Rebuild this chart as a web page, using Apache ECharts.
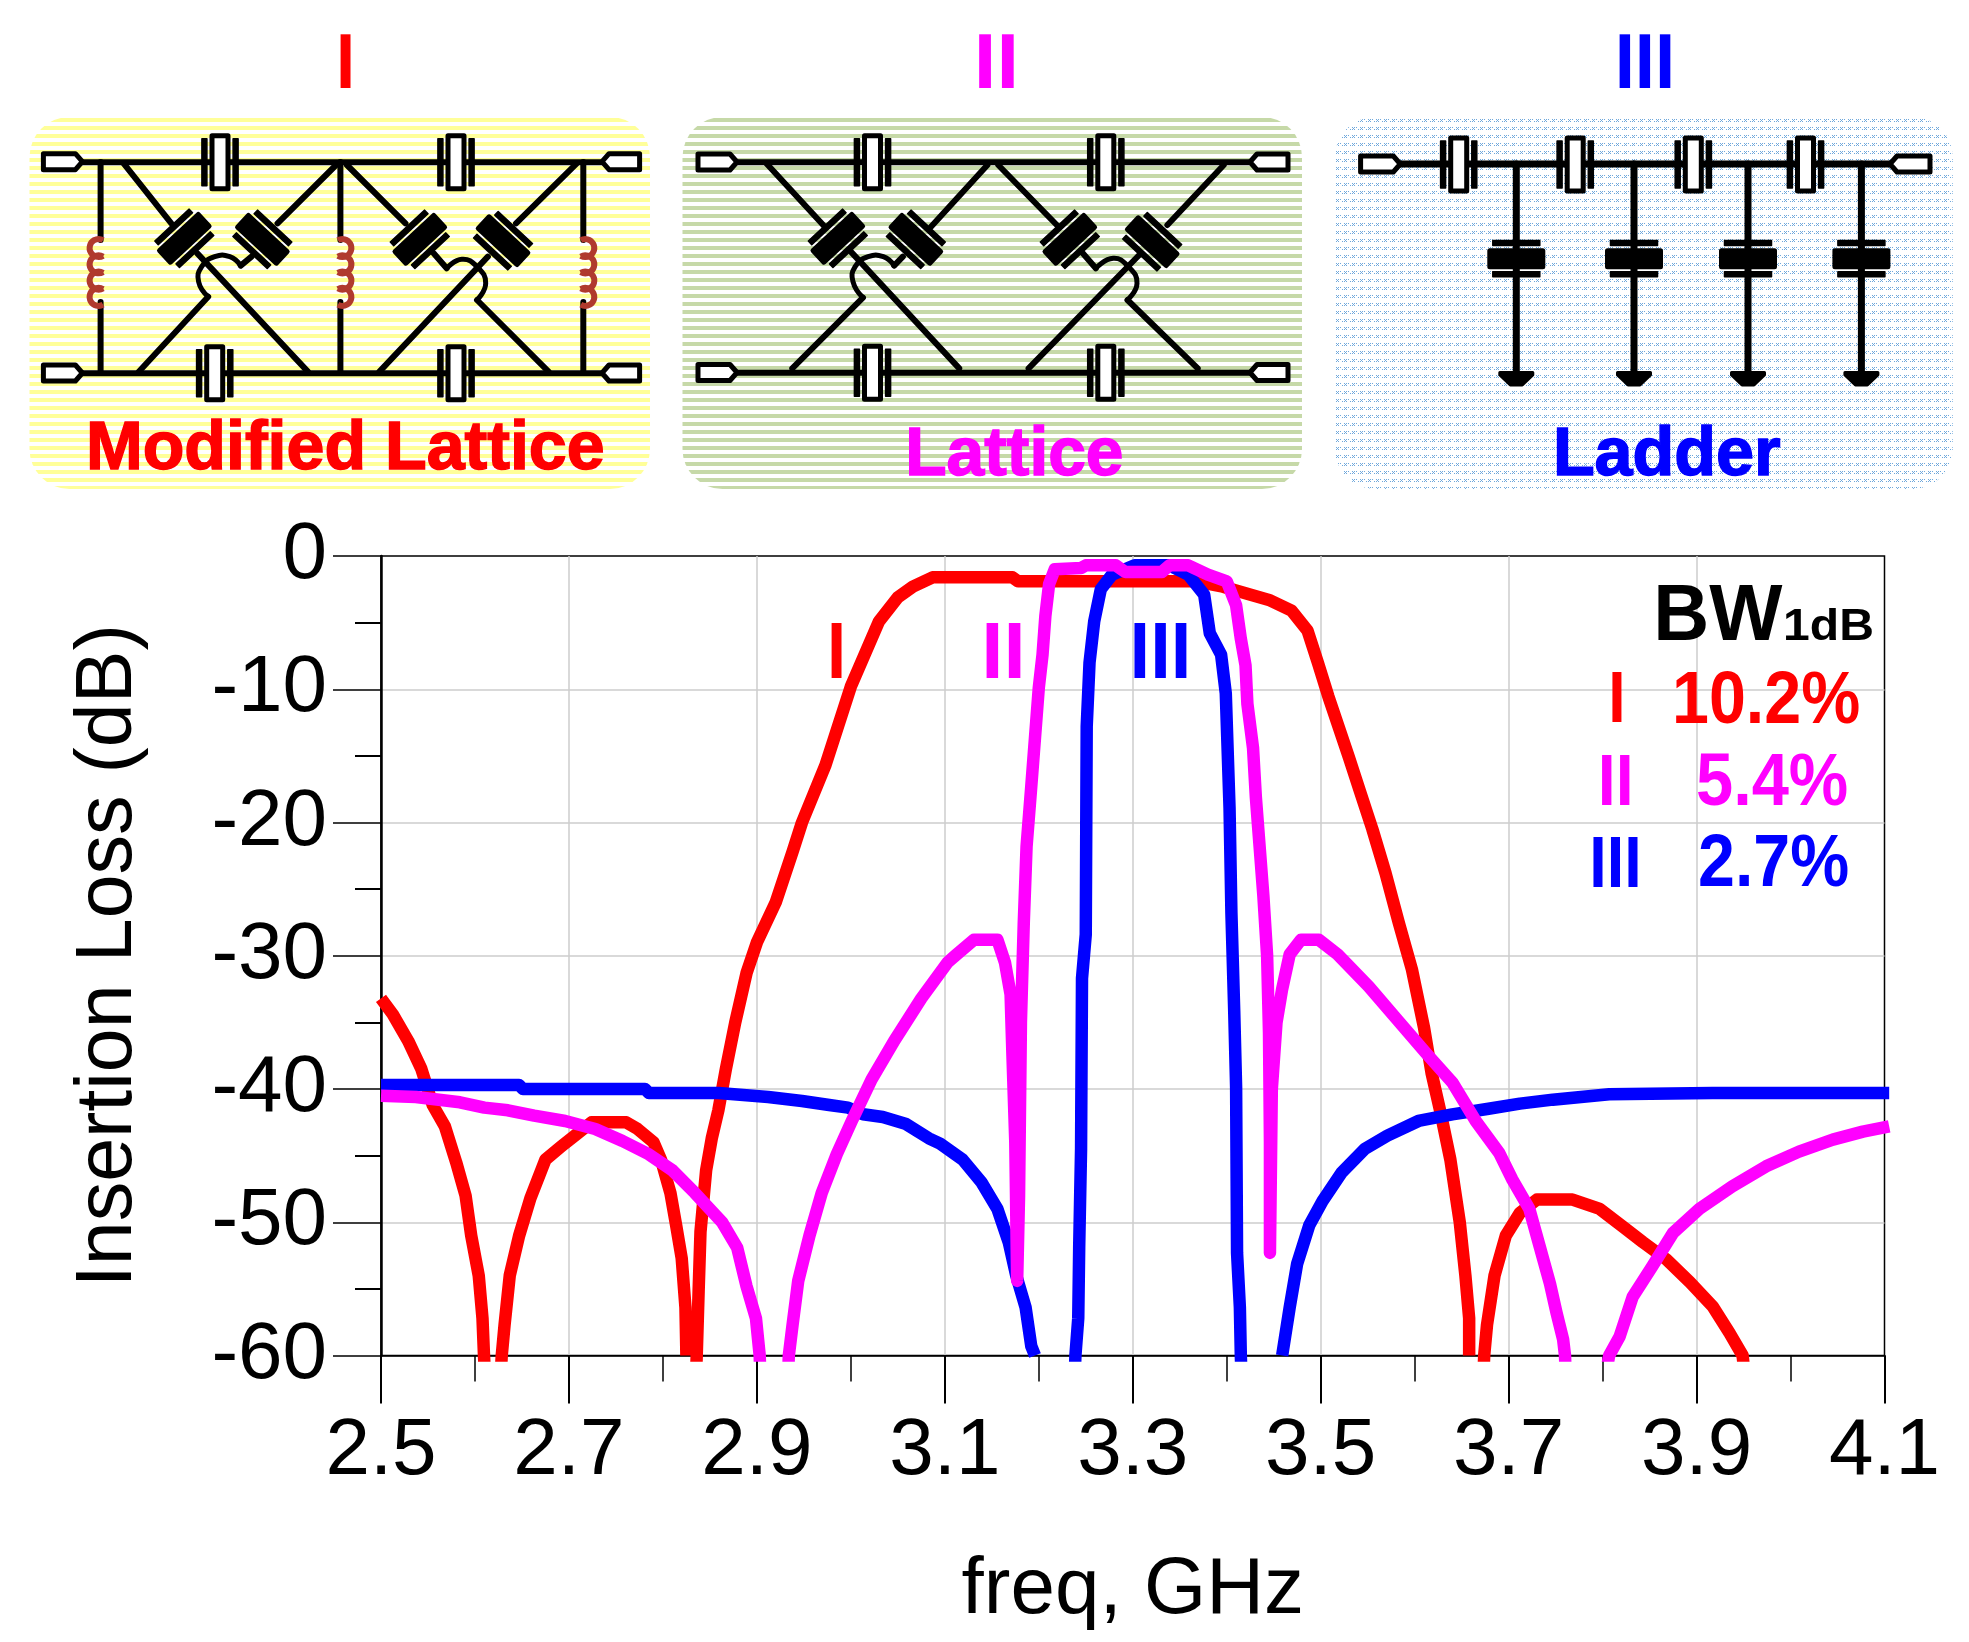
<!DOCTYPE html>
<html>
<head>
<meta charset="utf-8">
<style>html,body{margin:0;padding:0;background:#fff}#c{width:1969px;height:1642px}</style>
<script src="https://cdn.jsdelivr.net/npm/echarts@6/dist/echarts.min.js"></script>
</head>
<body>
<div id="c"></div>
<script>
// ---------- chart data ----------
const xMajorTicks = [2.5, 2.7, 2.9, 3.1, 3.3, 3.5, 3.7, 3.9, 4.1];
const yTickValues = [0, -10, -20, -30, -40, -50, -60];
const seriesNames = ['I', 'II', 'III'];
const bandwidths = ['10.2%', '5.4%', '2.7%'];

const redFreq = [2.5,2.5126,2.529,2.543,2.555,2.568,2.58,2.59,2.596,2.604,2.608,2.6096,2.611,2.612,
  2.627,2.6285,2.6315,2.637,2.647,2.659,2.675,2.692,2.708,2.724,2.761,2.773,2.79,2.798,2.808,2.814,2.82,2.824,2.825,2.826,
  2.835,2.836,2.838,2.84,2.846,2.852,2.859,2.867,2.877,2.889,2.9,2.92,2.938,2.948,2.973,3.0,3.03,3.05,3.066,3.087,3.127,3.172,3.178,3.367,3.396,3.42,3.445,3.469,3.486,3.497,3.508,3.53,3.542,3.555,3.569,3.583,3.597,3.61,3.618,3.628,3.638,3.648,3.654,3.658,3.658,3.659,
  3.673,3.674,3.677,3.685,3.697,3.712,3.73,3.768,3.797,3.821,3.843,3.868,3.893,3.917,3.935,3.949,3.952];
const redDb = [-33.2,-34.4,-36.4,-38.5,-41.2,-42.8,-45.5,-48,-51,-54,-57.2,-60,-62,null,
  -62,-60,-57.7,-54,-51,-48.2,-45.3,-44.3,-43.4,-42.5,-42.5,-43,-44,-45.3,-47.8,-50.2,-52.7,-56.4,-60,null,
  -62,-60,-55.2,-50.7,-46.1,-43.7,-41.6,-38.5,-35,-31.3,-29,-26,-22.2,-20,-15.7,-9.8,-4.9,-3.1,-2.3,-1.6,-1.6,-1.6,-1.9,-1.9,-2.3,-2.8,-3.3,-4.1,-5.6,-8,-10.5,-15.1,-17.7,-20.5,-23.8,-27.5,-31,-35.4,-38.8,-41.9,-45.3,-50,-54,-57.2,-60,null,
  -62,-60,-57.7,-54,-51,-49.3,-48.3,-48.3,-49,-50.3,-51.5,-52.8,-54.5,-56.3,-58.3,-60,-62];

const magentaFreq = [2.5,2.537,2.584,2.61,2.635,2.663,2.696,2.728,2.757,2.785,2.81,2.834,2.863,2.879,2.889,2.899,2.903,2.904,2.905,
  2.933,2.934,2.938,2.944,2.956,2.969,2.985,3.001,3.022,3.046,3.075,3.103,3.111,3.131,3.156,3.164,3.17,3.172,3.175,3.177,3.179,3.181,3.184,3.187,3.192,3.196,3.2,3.204,3.207,3.211,3.217,3.245,3.25,3.282,3.292,3.331,3.339,3.359,3.38,3.4,3.41,3.415,3.42,3.422,3.428,3.431,3.435,3.439,3.443,3.445,3.446,3.446,3.448,3.453,3.459,3.467,3.479,3.498,3.518,3.551,3.579,3.612,3.64,3.665,3.69,3.704,3.722,3.733,3.744,3.751,3.758,3.76,3.761,
  3.801,3.802,3.807,3.818,3.832,3.853,3.875,3.903,3.938,3.974,4.009,4.045,4.077,4.105];
const magentaDb = [-40.5,-40.6,-41,-41.4,-41.6,-42,-42.4,-43,-43.9,-44.9,-46.1,-47.8,-50,-51.9,-54.8,-57.2,-60,-62,null,
  -62,-60,-57.7,-54.4,-51,-47.8,-44.9,-42.4,-39.3,-36.4,-33.2,-30.5,-30,-28.8,-28.8,-30.5,-32.9,-37.5,-44,-54.4,-48,-35,-27.6,-21.8,-17.3,-13.6,-9.9,-7.4,-4.5,-2.1,-1,-0.9,-0.7,-0.7,-1.2,-1.2,-0.7,-0.7,-1.4,-1.9,-3.7,-6.2,-8.2,-11.1,-14.4,-18.1,-21.8,-25.5,-30,-35.8,-44,-52.3,-40,-35,-32.5,-29.9,-28.8,-28.8,-29.9,-32.3,-34.6,-37.3,-39.5,-42.4,-44.8,-46.8,-49,-51.8,-54.6,-56.8,-58.8,-60,-62,null,
  -62,-60,-58.6,-55.6,-53.3,-50.8,-49,-47.3,-45.8,-44.7,-43.8,-43.2,-42.8,-42.4];

const blueFreq = [2.5,2.647,2.651,2.781,2.785,2.859,2.912,2.948,2.977,2.997,3.013,3.034,3.058,3.083,3.095,3.119,3.139,3.156,3.168,3.176,3.186,3.192,3.196,3.197,
  3.238,3.239,3.242,3.243,3.245,3.246,3.25,3.251,3.254,3.259,3.266,3.278,3.302,3.339,3.359,3.376,3.382,3.394,3.399,3.403,3.405,3.408,3.41,3.411,3.414,3.415,3.416,
  3.458,3.459,3.467,3.475,3.488,3.502,3.522,3.547,3.571,3.604,3.64,3.677,3.712,3.747,3.807,3.917,4.105];
const blueDb = [-39.7,-39.7,-40,-40,-40.3,-40.3,-40.6,-40.9,-41.2,-41.4,-41.9,-42.1,-42.6,-43.7,-44.1,-45.3,-47,-49,-51.5,-54,-56.4,-59.3,-60,null,
  -62,-60,-57.2,-51.9,-44.5,-31.7,-28.4,-12.8,-8,-4.9,-2.5,-1.4,-0.7,-0.7,-1.4,-2.9,-5.8,-7.4,-10.3,-18.9,-26.8,-34.2,-39.9,-52.3,-56.4,-60,-62,
  null,-60,-56.4,-53.1,-50.2,-48.4,-46.3,-44.5,-43.5,-42.4,-41.9,-41.5,-41.1,-40.8,-40.4,-40.3,-40.3];

const RED = '#ff0000', MAG = '#ff00ff', BLU = '#0000ff';
const FONT = '"Liberation Sans", Arial, sans-serif';

function zip(xs, ys) { return xs.map((x, i) => [x, ys[i]]); }

// ---------- helpers for text and schematics ----------
const measure = document.createElement('canvas').getContext('2d');
const g = [];

function fit(str, l, r, top, bot, color, stroke) {
  measure.font = 'bold 100px ' + FONT;
  measure.textBaseline = 'middle';
  measure.textAlign = 'left';
  const m = measure.measureText(str);
  const inkW = m.actualBoundingBoxLeft + m.actualBoundingBoxRight;
  const inkH = m.actualBoundingBoxAscent + m.actualBoundingBoxDescent;
  const fs = 100 * (bot - top) / inkH;
  const k = fs / 100;
  const sx = (r - l) / (inkW * k);
  g.push({
    type: 'text', z: 20, x: l + m.actualBoundingBoxLeft * k * sx, y: bot - m.actualBoundingBoxDescent * k, scaleX: sx,
    style: { text: str, font: 'bold ' + fs + 'px ' + FONT, fill: color, align: 'left', verticalAlign: 'middle',
             stroke: stroke ? color : null, lineWidth: stroke || 0 }
  });
}

function poly(pts, fill, stroke, lw) {
  g.push({ type: 'polygon', z: 12, shape: { points: pts },
    style: { fill: fill, stroke: stroke || null, lineWidth: lw || 0, lineJoin: 'round' } });
}
function wire(x1, y1, x2, y2, lw) {
  g.push({ type: 'line', z: 11, shape: { x1: x1, y1: y1, x2: x2, y2: y2 },
    style: { stroke: '#000', lineWidth: lw || 6, lineCap: 'round' } });
}
function curve(pts, lw) {
  g.push({ type: 'polyline', z: 11, shape: { points: pts, smooth: 0.5 },
    style: { stroke: '#000', lineWidth: lw || 5, fill: null, lineCap: 'round' } });
}
function box(cx, cy, ux, uy, hu, hv) {
  const vx = -uy, vy = ux;
  return [[cx + ux * hu + vx * hv, cy + uy * hu + vy * hv], [cx + ux * hu - vx * hv, cy + uy * hu - vy * hv],
          [cx - ux * hu - vx * hv, cy - uy * hu - vy * hv], [cx - ux * hu + vx * hv, cy - uy * hu + vy * hv]];
}
function resonator(cx, cy, ux, uy, filled) {
  poly(box(cx, cy, ux, uy, 8, 26.5), filled ? '#000' : '#fff', '#000', 5);
  poly(box(cx + ux * 15.6, cy + uy * 15.6, ux, uy, 2.5, 23.5), '#000', '#000', 1.5);
  poly(box(cx - ux * 15.6, cy - uy * 15.6, ux, uy, 2.5, 23.5), '#000', '#000', 1.5);
}
function port(x1, x2, y, tipRight) {
  const tip = tipRight ? x2 : x1, neck = tipRight ? x2 - 7 : x1 + 7, back = tipRight ? x1 : x2;
  poly([[back, y - 8], [neck, y - 8], [tip, y], [neck, y + 8], [back, y + 8]], '#fff', '#000', 5);
}
function inductor(x, y0, dir) {
  const open = Math.PI / 3;
  for (let i = 0; i < 4; i++) {
    const cy = y0 + 8 + i * 16.3;
    const mid = dir < 0 ? Math.PI : 0;
    g.push({ type: 'arc', z: 12, shape: { cx: x + dir * 2, cy: cy, r: 9, startAngle: mid - Math.PI / 2 - open / 2, endAngle: mid + Math.PI / 2 + open / 2, clockwise: true },
      style: { stroke: '#b03a2e', lineWidth: 6, fill: null } });
  }
}
const dirA = [0.68, 0.73], dirB = [-0.68, 0.73];
function panel(x, w, fillPattern) {
  g.push({ type: 'rect', z: 5, shape: { x: x, y: 117, width: w, height: 372, r: 40 }, style: { fill: fillPattern } });
}
function stripes(color) {
  const c = document.createElement('canvas'); c.width = 8; c.height = 8;
  const t = c.getContext('2d'); t.fillStyle = color;
  t.fillRect(0, 6, 8, 2); t.fillRect(0, 0, 8, 2);
  return { image: c, repeat: 'repeat' };
}
function dots(color) {
  const c = document.createElement('canvas'); c.width = 8; c.height = 8;
  const t = c.getContext('2d'); t.fillStyle = color;
  [[0, 7], [2, 7], [1, 0], [0, 1], [2, 1], [4, 7], [6, 1]].forEach(p => t.fillRect(p[0], p[1], 1, 1));
  return { image: c, repeat: 'repeat' };
}

// Lattice section given in zoom-like units converted to pixels
function lattice(ox, L) {
  const X = z => ox + z / 2.306, Y = z => z / 3;
  const w = (a, b) => wire(X(a[0]), Y(a[1]), X(b[0]), Y(b[1]));
  L.wires.forEach(s => w(s[0], s[1]));
  L.humps.forEach(h => curve(h.map(p => [X(p[0]), Y(p[1])])));
  L.res.forEach(r => resonator(X(r[0]), Y(r[1]), r[2][0], r[2][1], true));
}

// ---------- panels ----------
panel(29.5, 620.5, stripes('#ffff99'));
panel(682.5, 619.5, stripes('#c6d9a8'));
panel(1335, 617.7, dots('#6fa8dc'));

// Panel I
wire(80, 162.3, 604, 162.3); wire(80, 373.3, 604, 373.3);
[100.6, 340.4, 583.3].forEach(x => { wire(x, 162, x, 240); wire(x, 302, x, 373); });
inductor(100.6, 240, -1); inductor(340.4, 240, 1); inductor(583.3, 240, 1);
lattice(0, {
  wires: [[[285, 490], [395, 670]], [[455, 760], [710, 1115]], [[775, 495], [640, 670]], [[580, 770], [555, 797]], [[480, 890], [320, 1115]],
          [[800, 495], [935, 670]], [[1000, 760], [1030, 805]], [[1330, 490], [1190, 670]], [[1125, 770], [875, 1115]], [[1100, 900], [1265, 1115]]],
  humps: [[[555, 797], [530, 770], [495, 770], [465, 800], [458, 845], [480, 890]],
          [[1030, 805], [1065, 778], [1100, 800], [1120, 850], [1100, 900]]],
  res: [[425, 715, dirA], [605, 718, dirB], [968, 718, dirA], [1160, 722, dirB]]
});
[[220, 162.3], [456, 162.3], [214.7, 373.3], [456, 373.3]].forEach(p => resonator(p[0], p[1], 1, 0, false));
port(43.4, 82.4, 161.7, true); port(43.4, 82.4, 373, true); port(602, 639.6, 161.7, false); port(602, 639.6, 373, false);

// Panel II
wire(735, 162.3, 1252, 162.3); wire(735, 372.7, 1252, 372.7);
lattice(660, {
  wires: [[[245, 490], [380, 680]], [[440, 755], [690, 1105]], [[755, 495], [625, 680]], [[560, 770], [540, 797]], [[468, 893], [305, 1105]],
          [[780, 495], [915, 675]], [[975, 760], [1005, 805]], [[1300, 495], [1170, 675]], [[1105, 765], [850, 1105]], [[1078, 900], [1240, 1105]]],
  humps: [[[540, 797], [515, 770], [480, 770], [450, 800], [445, 845], [468, 893]],
          [[1005, 805], [1045, 775], [1080, 800], [1100, 850], [1078, 900]]],
  res: [[410, 715, dirA], [590, 718, dirB], [945, 718, dirA], [1135, 725, dirB]]
});
[[872.5, 162.3], [1105.8, 162.3], [872.5, 372.7], [1105.8, 372.7]].forEach(p => resonator(p[0], p[1], 1, 0, false));
port(698, 737, 162, true); port(698, 737, 372.5, true); port(1250, 1288, 162, false); port(1250, 1288, 372.5, false);

// Panel III
wire(1398, 164, 1892, 164, 7);
[1516.3, 1634, 1748, 1861.4].forEach(x => {
  wire(x, 164, x, 374, 7);
  resonator(x, 258.7, 0, 1, true);
  poly([[x - 16.5, 372.5], [x + 16.5, 372.5], [x + 16.5, 375], [x + 6, 385], [x - 6, 385], [x - 16.5, 375]], '#000', '#000', 3);
});
[1458.7, 1575.2, 1693.3, 1805.5].forEach(x => resonator(x, 164.5, 1, 0, false));
port(1360.6, 1400.3, 164, true); port(1890, 1930, 164, false);

// Titles
fit('I', 340, 351, 33, 88, RED);
fit('II', 978.7, 1014.3, 33, 88, MAG);
fit('III', 1619, 1671, 33, 88, BLU);
fit('Modified Lattice', 90, 603, 419, 470, RED, 1.5);
fit('Lattice', 909.3, 1121.8, 425, 476, MAG, 1.5);
fit('Ladder', 1557, 1780, 425, 476, BLU, 1.5);

// In-plot curve labels
fit(seriesNames[0], 831, 842, 622, 678, RED);
fit(seriesNames[1], 986, 1021, 622, 678, MAG);
fit(seriesNames[2], 1134, 1187, 622, 678, BLU);

// Bandwidth table
fit('BW', 1658, 1783, 585, 640, '#000');
fit('1dB', 1786, 1872, 607, 640, '#000');
fit(seriesNames[0], 1612, 1622, 672, 722, RED);
fit(bandwidths[0], 1676, 1859, 671, 724, RED);
fit(seriesNames[1], 1601.7, 1630, 755, 805, MAG);
fit(bandwidths[1], 1698, 1847, 753, 806, MAG);
fit(seriesNames[2], 1593, 1638, 836.7, 886.7, BLU);
fit(bandwidths[2], 1700, 1848, 834, 887, BLU);

// ---------- chart ----------
const line = (name, xs, ys, color, z) => ({
  name: name, type: 'line', data: zip(xs, ys), z: z, showSymbol: false, symbol: 'none', smooth: false,
  connectNulls: false, animation: false, sampling: null, clip: true,
  lineStyle: { color: color, width: 12.5, cap: 'butt', join: 'round' }
});

const chart = echarts.init(document.getElementById('c'), null, { renderer: 'canvas' });
chart.setOption({
  animation: false,
  backgroundColor: '#fff',
  textStyle: { fontFamily: FONT },
  grid: { left: 381, top: 556, width: 1503.5, height: 799.5, show: true, borderColor: '#000', borderWidth: 1.5, backgroundColor: 'transparent', containLabel: false },
  xAxis: [{
    type: 'value', position: 'bottom', min: 2.5, max: 4.1, interval: 0.1,
    name: 'freq, GHz', nameLocation: 'middle', nameGap: 195,
    nameTextStyle: { fontSize: 80, color: '#000', fontFamily: FONT },
    axisLine: { show: true, onZero: false, lineStyle: { color: '#000', width: 1.5 } },
    axisTick: { show: true, customValues: xMajorTicks, length: 48, lineStyle: { color: '#000', width: 2 } },
    axisLabel: { show: true, customValues: xMajorTicks, margin: 56, fontSize: 80, color: '#000', fontFamily: FONT, formatter: v => Number(v).toFixed(1) },
    splitLine: { show: true, showMinLine: false, showMaxLine: false, lineStyle: { color: '#cccccc', width: 1.5 } }
  }, {
    type: 'value', position: 'bottom', min: 2.5, max: 4.1, interval: 0.1,
    axisLine: { show: false, onZero: false },
    axisTick: { show: true, length: 26, lineStyle: { color: '#000', width: 1.5 } },
    axisLabel: { show: false },
    splitLine: { show: false }
  }],
  yAxis: {
    type: 'value', min: -60, max: 0, interval: 10,
    name: 'Insertion Loss (dB)', nameLocation: 'middle', nameGap: 232, nameRotate: 90,
    nameTextStyle: { fontSize: 79, color: '#000', fontFamily: FONT },
    axisLine: { show: true, onZero: false, lineStyle: { color: '#000', width: 2.5 } },
    axisTick: { show: true, length: 48, lineStyle: { color: '#000', width: 1.5 } },
    minorTick: { show: true, splitNumber: 2, length: 26, lineStyle: { color: '#000', width: 2 } },
    axisLabel: { show: true, margin: 54, fontSize: 80, color: '#000', fontFamily: FONT, padding: [0, 0, 6, 0], customValues: yTickValues },
    splitLine: { show: true, showMinLine: false, showMaxLine: false, lineStyle: { color: '#cccccc', width: 1.5 } }
  },
  series: [
    line(seriesNames[0], redFreq, redDb, RED, 2),
    line(seriesNames[2], blueFreq, blueDb, BLU, 3),
    line(seriesNames[1], magentaFreq, magentaDb, MAG, 4)
  ],
  graphic: { elements: g }
});
</script>
</body>
</html>
